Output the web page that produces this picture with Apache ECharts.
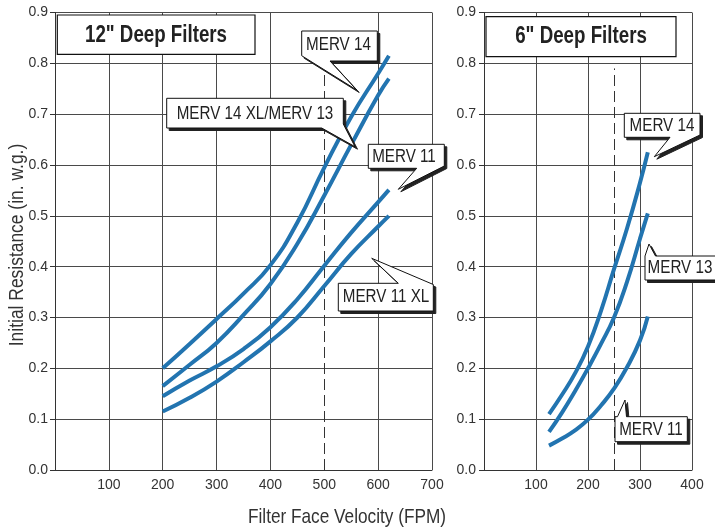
<!DOCTYPE html>
<html>
<head>
<meta charset="utf-8">
<script src="https://cdn.jsdelivr.net/npm/echarts@6/dist/echarts.min.js"></script>
<style>
html,body{margin:0;padding:0;background:#fff;}
#chart{width:715px;height:529px;}
</style>
</head>
<body>
<div id="chart"></div>
<script>
// ---- data ----
const velocity12 = [200, 250, 300, 350, 400, 450, 500, 550, 600, 620];
const merv14_12   = [0.200, 0.248, 0.297, 0.347, 0.403, 0.487, 0.595, 0.695, 0.780, 0.815];
const merv14xl_12 = [0.165, 0.207, 0.250, 0.305, 0.366, 0.445, 0.540, 0.640, 0.737, 0.770];
const merv11_12   = [0.145, 0.176, 0.204, 0.238, 0.281, 0.336, 0.402, 0.467, 0.527, 0.551];
const merv11xl_12 = [0.115, 0.142, 0.174, 0.212, 0.253, 0.300, 0.362, 0.425, 0.479, 0.500];

const velocity6 = [125, 150, 175, 200, 225, 250, 275, 300, 315];
const merv14_6 = [0.110, 0.148, 0.190, 0.243, 0.313, 0.395, 0.475, 0.565, 0.625];
const merv13_6 = [0.075, 0.113, 0.155, 0.200, 0.248, 0.300, 0.370, 0.455, 0.505];
const merv11_6 = [0.048, 0.062, 0.078, 0.099, 0.127, 0.160, 0.202, 0.255, 0.302];

const names12 = ['MERV 14', 'MERV 14 XL/MERV 13', 'MERV 11', 'MERV 11 XL'];
const names6 = ['MERV 14', 'MERV 13', 'MERV 11'];
const titles = ['12" Deep Filters', '6" Deep Filters'];
const xTitle = 'Filter Face Velocity (FPM)';
const yTitle = 'Initial Resistance (in. w.g.)';
const refVelocity12 = 500;
const refVelocity6 = 250;
const refTop = 0.79;

// ---- styles ----
const BLUE = '#2274b0';
const GRID = '#4a4a4a';
const AX = '#333';
const FONT = "'Liberation Sans Narrow','Liberation Sans',Arial,sans-serif";
const FONT_R = "'Liberation Sans',Arial,sans-serif";

function pairs(xs, ys) { return xs.map((x, i) => [x, ys[i]]); }

function xAxisCfg(idx, max, ref) {
  // vertical grid colours; the grid line under the dashed reference line is left out
  const cols = [];
  for (let v = 0; v <= max; v += 100) cols.push(v === ref ? 'rgba(0,0,0,0)' : GRID);
  return {
    type: 'value', gridIndex: idx, min: 0, max: max, interval: 100,
    axisLine: { show: true, onZero: false, lineStyle: { color: AX, width: 1 } },
    axisTick: { show: false },
    splitLine: { show: true, lineStyle: { color: cols, width: 1 } },
    axisLabel: { color: '#333', fontSize: 14, fontFamily: FONT, margin: 8,
      formatter: v => (v === 0 ? '' : String(v)) }
  };
}
function yAxisCfg(idx, margin) {
  return {
    type: 'value', gridIndex: idx, min: 0, max: 0.9, interval: 0.1,
    axisLine: { show: true, lineStyle: { color: AX, width: 1 } },
    axisTick: { show: true, length: 5, lineStyle: { color: AX } },
    splitLine: { show: true, lineStyle: { color: GRID, width: 1 } },
    axisLabel: { color: '#333', fontSize: 14, fontFamily: FONT, margin: margin,
      formatter: v => v.toFixed(1) }
  };
}
function lineSeries(name, idx, xs, ys, extra) {
  return Object.assign({
    name: name, type: 'line', xAxisIndex: idx, yAxisIndex: idx,
    data: pairs(xs, ys), smooth: 0.5, showSymbol: false, symbol: 'none',
    lineStyle: { color: BLUE, width: 4, cap: 'butt' }, z: 5, silent: true
  }, extra || {});
}
function refLine(v) {
  return {
    silent: true, symbol: 'none', label: { show: false },
    lineStyle: { color: '#333', width: 1, type: [11, 5] },
    data: [[{ coord: [v, 0] }, { coord: [v, refTop] }]]
  };
}

// ---- callout annotations (pixel geometry) ----
const callouts = [
  { text: names12[0], tx: 338.5, ty: 44.5,
    pts: [[301.7,31],[377.3,31],[377.3,61],[330,61],[356.7,90],[301.7,55.7]] },
  { text: names12[1], tx: 255, ty: 113.5,
    pts: [[166.7,98.3],[343.3,98.3],[343.3,124],[355,146.7],[321.7,128],[166.7,128]] },
  { text: names12[2], tx: 404, ty: 156.5,
    pts: [[368.3,144.3],[444.3,144.3],[444.3,166],[398.3,189.3],[416.7,168.3],[368.3,168.3]] },
  { text: names12[3], tx: 386, ty: 297,
    pts: [[338.3,283.3],[398.3,283.3],[371.7,258.3],[433.3,284.5],[433.3,311],[338.3,311]] },
  { text: names6[0], tx: 662, ty: 125.5,
    pts: [[624.3,113.3],[700,113.3],[700,135],[654.3,156.7],[670,137.3],[624.3,137.3]] },
  { text: names6[1], tx: 680, ty: 268,
    pts: [[645,256],[649,244],[655.5,256],[718,256],[718,280],[645,280]] },
  { text: names6[2], tx: 651, ty: 429.5,
    pts: [[615,416.7],[617.5,416.7],[625,400],[626.5,416.7],[687.3,416.7],[687.3,441.7],[615,441.7]] }
];

const graphics = [];
callouts.forEach(c => {
  graphics.push({ type: 'polygon', z: 20, silent: true,
    shape: { points: c.pts.map(p => [p[0] + 2.5, p[1] + 2.5]) },
    style: { fill: '#222', stroke: '#222', lineWidth: 1 } });
  graphics.push({ type: 'polygon', z: 21, silent: true,
    shape: { points: c.pts },
    style: { fill: '#fff', stroke: '#111', lineWidth: 1 } });
  graphics.push({ type: 'text', z: 22, silent: true, x: c.tx, y: c.ty, scaleX: 0.8,
    style: { text: c.text, x: 0, y: 0, align: 'center', verticalAlign: 'middle',
      fill: '#222', font: '19px ' + FONT_R } });
});
// title boxes
[[57.3, 15, 197.7, 39.3, 156, 35, titles[0]], [486, 16.7, 190, 40, 581, 36.5, titles[1]]].forEach(b => {
  graphics.push({ type: 'rect', z: 20, silent: true,
    shape: { x: b[0], y: b[1], width: b[2], height: b[3] },
    style: { fill: '#fff', stroke: '#111', lineWidth: 1.2 } });
  graphics.push({ type: 'text', z: 22, silent: true, x: b[4], y: b[5], scaleX: 0.78,
    style: { text: b[6], x: 0, y: 0, align: 'center', verticalAlign: 'middle',
      fill: '#222', font: 'bold 24px ' + FONT_R } });
});
// axis titles
graphics.push({ type: 'text', z: 22, silent: true, x: 347, y: 517, scaleX: 0.82,
  style: { text: xTitle, x: 0, y: 0, align: 'center', verticalAlign: 'middle',
    fill: '#333', font: '21px ' + FONT_R } });
graphics.push({ type: 'text', z: 22, silent: true, x: 17, y: 245, rotation: Math.PI / 2, scaleX: 0.83,
  style: { text: yTitle, x: 0, y: 0, align: 'center', verticalAlign: 'middle',
    fill: '#333', font: '21px ' + FONT_R } });

const chart = echarts.init(document.getElementById('chart'), null, { renderer: 'canvas' });
chart.setOption({
  animation: false,
  backgroundColor: '#fff',
  grid: [
    { left: 55, right: 283, top: 12.5, bottom: 59, containLabel: false },
    { left: 484, right: 23, top: 12.5, bottom: 59, containLabel: false }
  ],
  xAxis: [xAxisCfg(0, 700, refVelocity12), xAxisCfg(1, 400, refVelocity6)],
  yAxis: [yAxisCfg(0, 7), yAxisCfg(1, 8)],
  series: [
    lineSeries(names12[0], 0, velocity12, merv14_12, { markLine: refLine(refVelocity12) }),
    lineSeries(names12[1], 0, velocity12, merv14xl_12),
    lineSeries(names12[2], 0, velocity12, merv11_12),
    lineSeries(names12[3], 0, velocity12, merv11xl_12),
    lineSeries(names6[0], 1, velocity6, merv14_6, { markLine: refLine(refVelocity6) }),
    lineSeries(names6[1], 1, velocity6, merv13_6),
    lineSeries(names6[2], 1, velocity6, merv11_6)
  ],
  graphic: graphics
});
</script>
</body>
</html>
